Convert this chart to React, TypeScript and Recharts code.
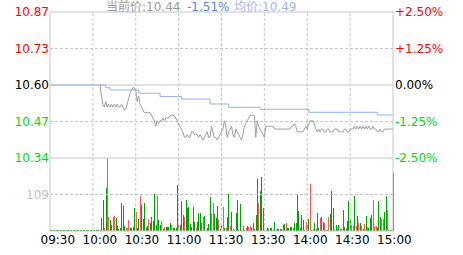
import { ComposedChart, Bar, Line, XAxis, YAxis, ReferenceLine } from "recharts";

const prevClose = 10.6;
const openMinute = 35;

const timeTicks = [0, 30, 60, 90, 120, 150, 180, 210, 240];
const timeLabels = ["09:30", "10:00", "10:30", "11:00", "11:30", "13:30", "14:00", "14:30", "15:00"];
const priceTicks = [10.865, 10.7325, 10.6, 10.4675, 10.335];
const priceTickLabels = ["10.87", "10.73", "10.60", "10.47", "10.34"];
const pctTickLabels = ["+2.50%", "+1.25%", "0.00%", "-1.25%", "-2.50%"];

// one price per minute from 10:05 (minute 35) to 15:00 (minute 240)
const prices = [
  10.60, 10.56, 10.53, 10.52, 10.54, 10.52, 10.53, 10.52, 10.53, 10.52,
  10.53, 10.52, 10.53, 10.52, 10.52, 10.53, 10.52, 10.51, 10.51, 10.53,
  10.55, 10.57, 10.58, 10.59, 10.59, 10.58, 10.54, 10.56, 10.53, 10.52,
  10.51, 10.50, 10.50, 10.50, 10.50, 10.50, 10.49, 10.48, 10.47, 10.45,
  10.47, 10.46, 10.47, 10.47, 10.48, 10.47, 10.48, 10.48, 10.48, 10.49,
  10.49, 10.49, 10.49, 10.48, 10.47, 10.46, 10.45, 10.44, 10.43, 10.41,
  10.41, 10.42, 10.41, 10.41, 10.43, 10.43, 10.42, 10.42, 10.42, 10.41,
  10.42, 10.41, 10.40, 10.41, 10.42, 10.43, 10.41, 10.41, 10.45, 10.43,
  10.41, 10.41, 10.40, 10.41, 10.42, 10.43, 10.44, 10.47, 10.45, 10.41,
  10.43, 10.44, 10.45, 10.42, 10.41, 10.44, 10.43, 10.42, 10.41, 10.40,
  10.42, 10.45, 10.46, 10.47, 10.48, 10.49, 10.49, 10.49, 10.49, 10.41,
  10.47, 10.45, 10.44, 10.43, 10.42, 10.41, 10.45, 10.45, 10.45, 10.45,
  10.45, 10.45, 10.44, 10.44, 10.44, 10.44, 10.44, 10.44, 10.44, 10.44,
  10.44, 10.44, 10.44, 10.44, 10.45, 10.45, 10.46, 10.45, 10.43, 10.43,
  10.43, 10.43, 10.43, 10.44, 10.45, 10.44, 10.46, 10.47, 10.47, 10.47,
  10.46, 10.44, 10.43, 10.44, 10.43, 10.44, 10.44, 10.43, 10.43, 10.44,
  10.44, 10.43, 10.43, 10.43, 10.44, 10.44, 10.44, 10.43, 10.43, 10.43,
  10.43, 10.44, 10.44, 10.43, 10.43, 10.44, 10.44, 10.44, 10.45, 10.44,
  10.45, 10.44, 10.45, 10.44, 10.45, 10.44, 10.45, 10.44, 10.45, 10.44,
  10.44, 10.45, 10.44, 10.44, 10.43, 10.43, 10.44, 10.43, 10.43, 10.44,
  10.44, 10.44, 10.44, 10.44, 10.44, 10.44,
];

// volume per minute, same minutes as prices
const volumes = [
  3, 40, 93, 8, 128, 218, 43, 33, 18, 43,
  45, 40, 16, 6, 8, 83, 76, 16, 10, 10,
  33, 10, 8, 13, 68, 58, 10, 36, 106, 78,
  36, 85, 10, 16, 36, 23, 43, 30, 110, 18,
  106, 33, 18, 30, 6, 13, 13, 13, 13, 23,
  18, 8, 10, 8, 136, 18, 18, 91, 48, 43,
  93, 68, 73, 20, 13, 73, 28, 10, 26, 53,
  53, 23, 43, 45, 3, 8, 20, 103, 50, 83,
  50, 40, 75, 33, 6, 20, 71, 8, 10, 43,
  111, 16, 56, 6, 2, 54, 93, 2, 81, 2,
  15, 3, 10, 15, 13, 15, 8, 23, 6, 48,
  156, 83, 120, 160, 68, 0, 2, 8, 6, 8,
  10, 3, 28, 3, 6, 6, 6, 6, 18, 20,
  25, 8, 10, 13, 13, 10, 23, 23, 110, 60,
  8, 48, 33, 3, 28, 18, 36, 140, 3, 6,
  23, 6, 53, 8, 40, 43, 26, 23, 3, 3,
  43, 50, 120, 68, 3, 18, 6, 18, 6, 6,
  63, 13, 6, 30, 90, 35, 18, 15, 105, 15,
  46, 25, 25, 15, 6, 20, 45, 13, 10, 38,
  48, 93, 16, 16, 10, 90, 43, 35, 35, 58,
  105, 63, 0, 0, 0, 173,
];

// r = price up (red bar), g = down (green bar)
const volSides = [
  "gggrgrrggr", "rgggggggrr", "rggggrggrg", "ggggrggggg", "rggrgrgggg",
  "rggggrgggr", "gggggggrgg", "ggrgrgggrr", "gggrggrgrg", "grgrgggggg",
  "rgrgrrgggg", "grgggggggg", "gggggggggg", "rggggrgggg", "ggggrrgrgr",
  "ggggrggrgg", "rgggggrgrg", "ggggggrrgr", "grgrgrgrgg", "grrrgggrrg",
  "grgggg",
].join("");

const avgMinutes = [0, 39, 42, 62, 77, 92, 112, 125, 147, 181, 229, 240];
const avgValues = [10.6, 10.59, 10.582, 10.57, 10.558, 10.549, 10.531, 10.519, 10.512, 10.501, 10.491, 10.491];

const RED = "#ff0000";
const GREEN = "#00dd00";
const GRID = "#c6c6c6";
const FONT = "'DejaVu Sans', 'Noto Sans CJK SC', sans-serif";

const rows = timeTicks[timeTicks.length - 1] + 1;
const data = Array.from({ length: rows }, (_, m) => {
  const i = m - openMinute;
  return {
    m,
    price: i >= 0 ? prices[i] : null,
    vol: i >= 0 ? volumes[i] : 0,
    up: i >= 0 && volSides[i] === "r",
  };
});
const avgData = avgMinutes.map((m, i) => ({ m, avg: avgValues[i] }));

const volMax = Math.max(...volumes);
const volMid = Math.round(volMax / 2);
const lastPrice = prices[prices.length - 1];
const lastAvg = avgValues[avgValues.length - 1];
const changePct = ((lastPrice - prevClose) / prevClose) * 100;

function LeftTick({ x, y, payload }: any) {
  const i = priceTicks.indexOf(payload.value);
  const fill = i < 2 ? RED : i === 2 ? "#000" : GREEN;
  return <text x={x} y={y} dy="0.36em" textAnchor="end" fill={fill} fontSize={12} fontFamily={FONT}>{priceTickLabels[i]}</text>;
}

function RightTick({ x, y, payload }: any) {
  const i = priceTicks.indexOf(payload.value);
  const fill = i < 2 ? RED : i === 2 ? "#000" : GREEN;
  return <text x={x} y={y} dy="0.36em" textAnchor="start" fill={fill} fontSize={12} fontFamily={FONT}>{pctTickLabels[i]}</text>;
}

function TimeTick({ x, y, payload }: any) {
  const i = timeTicks.indexOf(payload.value);
  return <text x={x + 7.8 - 0.8 * i} y={y} dy="0.71em" textAnchor="middle" fill="#000" fontSize={12} fontFamily={FONT}>{timeLabels[i]}</text>;
}

function VolBar({ x, y, width, height, payload }: any) {
  const cx = Math.round(x + width / 2);
  const bottom = Math.round(y + height);
  const h = Math.max(1, bottom - Math.round(y));
  return <rect x={cx} y={bottom - h} width={1} height={h} fill={payload.up ? "#ff5555" : "#00a400"} />;
}

export default function App() {
  return (
    <div style={{ position: "relative", width: 463, height: 255 }}>
      <style>{"body{margin:0}"}</style>
      <ComposedChart width={463} height={255} data={data} margin={{ top: 12, right: 0, bottom: 0, left: 0 }}>
        <XAxis dataKey="m" type="number" domain={[0, 240]} ticks={timeTicks} interval={0} height={24}
          stroke={GRID} tickLine={false} tickSize={0} tickMargin={4} tick={<TimeTick />} />
        <YAxis yAxisId="price" domain={[10.07, 10.865]} ticks={priceTicks} width={50} allowDataOverflow
          stroke={GRID} tickLine={false} tickSize={0} tickMargin={1} tick={<LeftTick />} />
        <YAxis yAxisId="pct" orientation="right" domain={[10.07, 10.865]} ticks={priceTicks} width={70} allowDataOverflow
          stroke={GRID} tickLine={false} tickSize={0} tickMargin={2} tick={<RightTick />} />
        <YAxis yAxisId="vol" hide domain={[0, volMax * 3]} />

        {timeTicks.slice(1, -1).map((t) => (
          <ReferenceLine key={t} x={t} yAxisId="price" stroke={GRID} strokeDasharray="3 2" />
        ))}
        <ReferenceLine y={priceTicks[1]} yAxisId="price" stroke={GRID} strokeDasharray="3 2" />
        <ReferenceLine y={priceTicks[3]} yAxisId="price" stroke={GRID} strokeDasharray="3 2" />
        <ReferenceLine y={priceTicks[0]} yAxisId="price" stroke={GRID} />
        <ReferenceLine y={priceTicks[2]} yAxisId="price" stroke={GRID} />
        <ReferenceLine y={priceTicks[4]} yAxisId="price" stroke={GRID} />
        <ReferenceLine y={volMid} yAxisId="vol" stroke={GRID} strokeDasharray="3 2"
          label={(p: any) => (
            <text x={p.viewBox.x - 1} y={p.viewBox.y} dy="0.36em" textAnchor="end" fill="#c0c0c0" fontSize={12} fontFamily={FONT}>{volMid}</text>
          )} />

        <Bar dataKey="vol" yAxisId="vol" barSize={1} minPointSize={1} shape={<VolBar />} isAnimationActive={false} />
        <Line data={avgData} dataKey="avg" yAxisId="price" type="stepAfter" stroke="#8fb0f0" strokeWidth={1} dot={false} activeDot={false} isAnimationActive={false} />
        <Line dataKey="price" yAxisId="price" type="linear" stroke="#9c9c9c" strokeWidth={1} dot={false} activeDot={false} isAnimationActive={false} />
      </ComposedChart>
      <svg width={463} height={255} style={{ position: "absolute", left: 0, top: 0, pointerEvents: "none" }}>
        <text x={106} y={10.5} fontSize={12} fontFamily={FONT} fill="#9a9a9a">当前价:{lastPrice.toFixed(2)}</text>
        <text x={187} y={10.5} fontSize={12} fontFamily={FONT} fill="#5585e5">{changePct.toFixed(2)}%</text>
        <text x={234} y={10.5} fontSize={12} fontFamily={FONT} fill="#9db6ef">均价:{lastAvg.toFixed(2)}</text>
      </svg>
    </div>
  );
}
